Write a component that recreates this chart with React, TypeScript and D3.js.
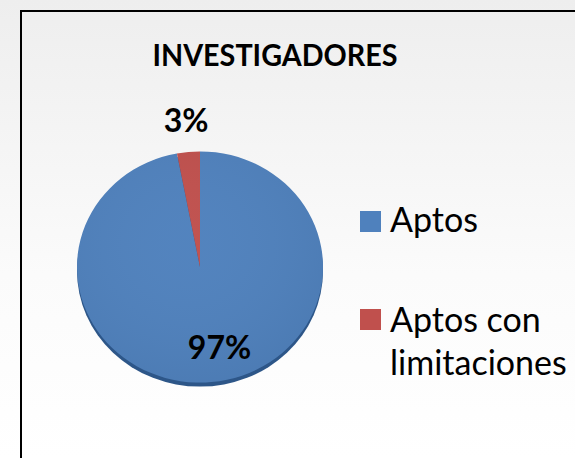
import React from "react";
import * as d3 from "d3";

const categories = ["Aptos", "Aptos con limitaciones"];
const values = [97, 3];
const labels = ["97%", "3%"];
const colors = ["#4f81bd", "#c0504d"];
const title = "INVESTIGADORES";

const W = 575;
const H = 458;

export default function App() {
  const cx = 200;
  const cy = 267;
  const r = 123;
  const sy = 0.94;
  const pie = d3.pie<number>().sort(null).value((d) => d)(values);
  const arc = d3.arc<d3.PieArcDatum<number>>().innerRadius(0).outerRadius(r);

  const labelPos = (d: d3.PieArcDatum<number>, i: number) => {
    const mid = (d.startAngle + d.endAngle) / 2;
    const rr = i === 0 ? 80 : 148;
    const x = cx + rr * Math.sin(mid) + (i === 0 ? 12 : 0);
    const y = cy - rr * Math.cos(mid);
    return [x, y];
  };

  return (
    <svg
      width={W}
      height={H}
      style={{ position: "fixed", left: 0, top: 0 }}
      fontFamily="Lato, 'Open Sans', sans-serif"
    >
      <defs>
        <linearGradient id="bg" x1="0" y1="0" x2="0" y2="1">
          <stop offset="0" stopColor="#eeeeee" />
          <stop offset="0.6" stopColor="#fbfbfb" />
          <stop offset="1" stopColor="#ffffff" />
        </linearGradient>
        <radialGradient id="shade" cx="0.45" cy="0.4" r="0.7">
          <stop offset="0" stopColor="#ffffff" stopOpacity="0.02" />
          <stop offset="1" stopColor="#000000" stopOpacity="0.06" />
        </radialGradient>
      </defs>
      <rect x={0} y={0} width={W} height={H} fill="url(#bg)" />
      <path d={`M21,${H} L21,11 L${W},11`} fill="none" stroke="#000" strokeWidth={2} />
      <text x={275} y={66} textAnchor="middle" fontWeight="bold" fontSize={31} fill="#000" textLength={245} lengthAdjust="spacingAndGlyphs">
        {title}
      </text>
      <g transform={`translate(${cx},${cy + 4}) scale(1,${sy})`}>
        <circle r={r} fill="#2d5688" />
      </g>
      <g transform={`translate(${cx},${cy}) scale(1,${sy})`}>
        {pie.map((d, i) => (
          <path key={i} d={arc(d) || ""} fill={colors[i]} />
        ))}
        <circle r={r} fill="url(#shade)" />
      </g>
      {pie.map((d, i) => {
        const [x, y] = labelPos(d, i);
        return (
          <text key={i} x={x} y={y} textAnchor="middle" dominantBaseline="central" fontWeight="bold" fontSize={32} fill="#000">
            {labels[i]}
          </text>
        );
      })}
      <g>
        <rect x={360} y={211} width={21} height={21} fill={colors[0]} />
        <text x={390} y={232} fontSize={34} fill="#000">{categories[0]}</text>
        <rect x={360} y={309} width={21} height={21} fill={colors[1]} />
        <text x={390} y={332} fontSize={34} fill="#000">Aptos con</text>
        <text x={390} y={375} fontSize={34} fill="#000">limitaciones</text>
      </g>
    </svg>
  );
}
